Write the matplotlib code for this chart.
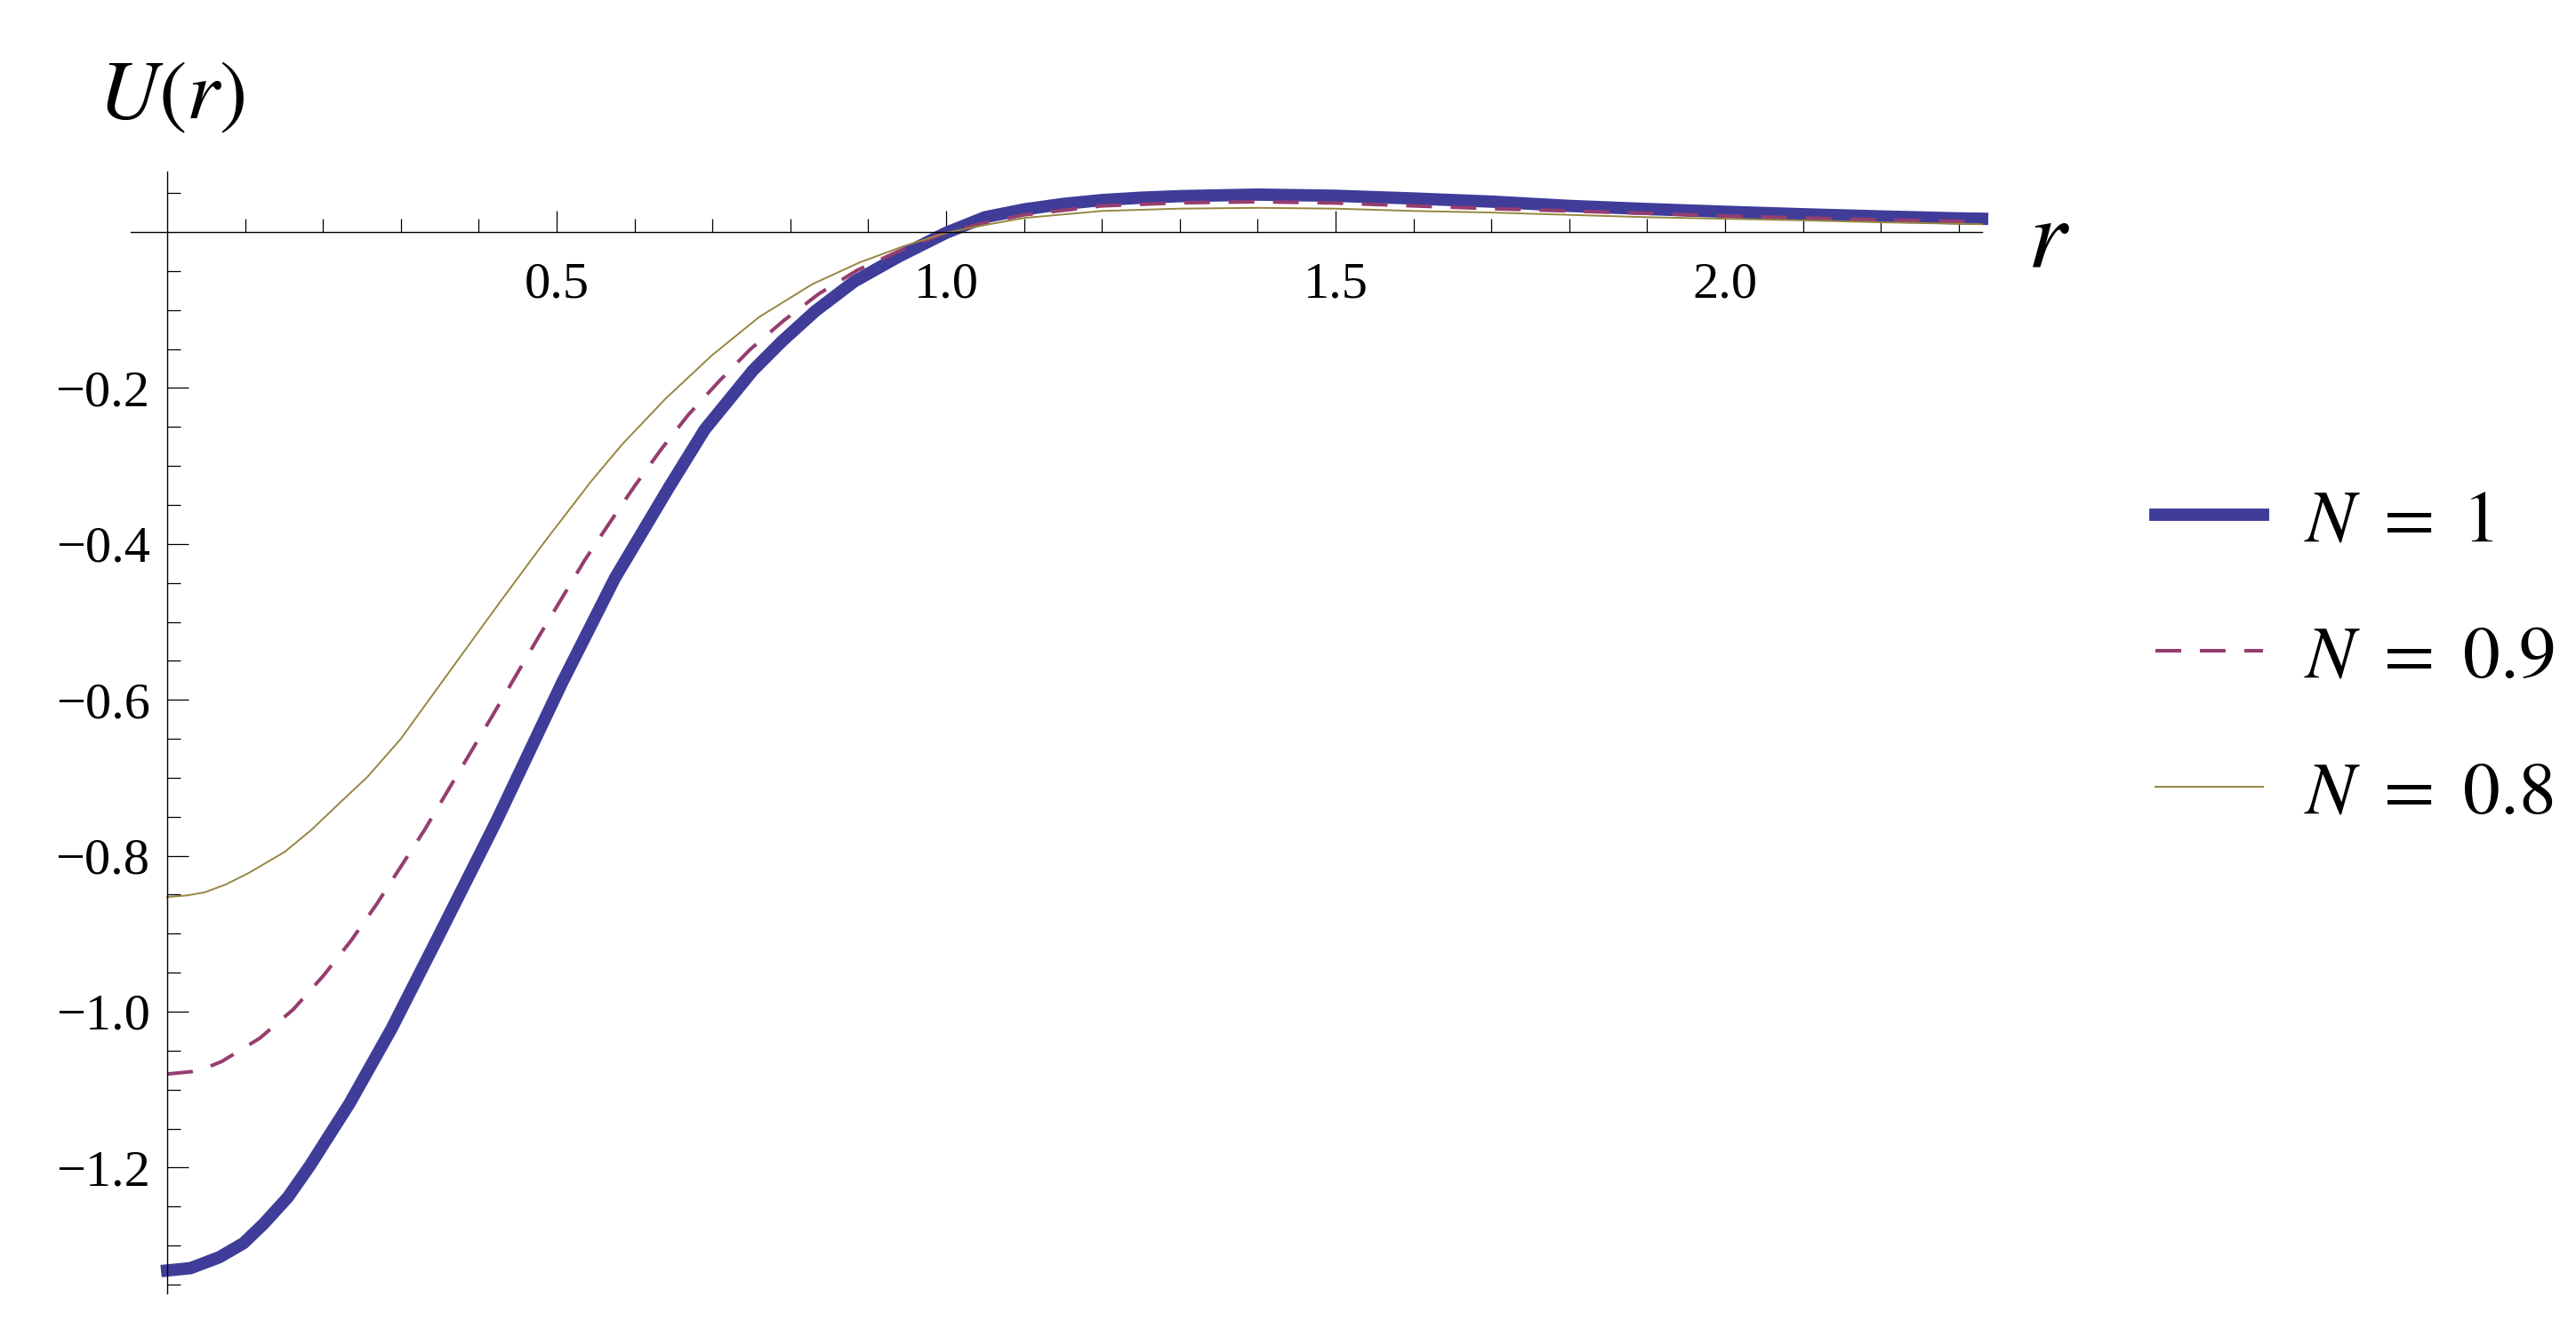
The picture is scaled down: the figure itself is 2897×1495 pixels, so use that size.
import matplotlib
matplotlib.use("Agg")
import matplotlib.pyplot as plt
from matplotlib.ticker import FixedLocator, FixedFormatter

plt.rcParams['font.family'] = 'Liberation Serif'
plt.rcParams['mathtext.fontset'] = 'stix'

# values
r_n1 = [0.0, 0.03, 0.067, 0.098, 0.124, 0.155, 0.183, 0.234, 0.288, 0.347,
        0.415, 0.4247, 0.507, 0.575, 0.643, 0.69, 0.752, 0.79, 0.832, 0.882,
        0.94, 1.0, 1.05, 1.1, 1.15, 1.2, 1.25, 1.3, 1.4, 1.5, 1.6, 1.7, 1.8,
        1.9, 2.0, 2.1, 2.2, 2.3, 2.33]
u_n1 = [-1.332, -1.329, -1.315, -1.297, -1.272, -1.238, -1.198, -1.118, -1.022, -0.906,
        -0.771, -0.7514, -0.578, -0.4436, -0.3295, -0.2535, -0.1775, -0.1395, -0.1015, -0.0635,
        -0.031, -0.001, 0.019, 0.029, 0.036, 0.041, 0.044, 0.046, 0.048, 0.0465, 0.043,
        0.039, 0.0335, 0.0295, 0.026, 0.0228, 0.020, 0.0175, 0.017]

r_n09 = [0.0, 0.031, 0.05, 0.070, 0.119, 0.162, 0.2005, 0.236, 0.269, 0.300, 0.331,
         0.360, 0.419, 0.477, 0.536, 0.568, 0.600, 0.634, 0.669, 0.708, 0.748,
         0.791, 0.837, 0.886, 0.938, 0.990, 1.046, 1.1, 1.2, 1.3, 1.4, 1.5, 1.6,
         1.7, 1.8, 1.9, 2.0, 2.1, 2.2, 2.3, 2.33]
u_n09 = [-1.080, -1.077, -1.072, -1.064, -1.034, -0.997, -0.954, -0.909, -0.862, -0.814, -0.766,
         -0.717, -0.618, -0.519, -0.421, -0.373, -0.326, -0.279, -0.2345, -0.192, -0.151,
         -0.114, -0.079, -0.049, -0.025, -0.004, 0.011, 0.022, 0.0335, 0.0375, 0.0388,
         0.0372, 0.0335, 0.030, 0.027, 0.024, 0.0205, 0.018, 0.0156, 0.0137, 0.013]

r_n08 = [0.0, 0.025, 0.048, 0.075, 0.105, 0.151, 0.185, 0.225, 0.257, 0.30, 0.371,
         0.4285, 0.4856, 0.5445, 0.5845, 0.640, 0.699, 0.760, 0.828, 0.889, 0.946,
         1.0, 1.05, 1.1, 1.2, 1.3, 1.4, 1.5, 1.6, 1.7, 1.8, 1.9, 2.0, 2.1, 2.2,
         2.3, 2.33]
u_n08 = [-0.853, -0.851, -0.847, -0.837, -0.822, -0.795, -0.767, -0.729, -0.699, -0.650, -0.552,
         -0.473, -0.396, -0.3195, -0.272, -0.2136, -0.1585, -0.109, -0.067, -0.039, -0.018,
         -0.001, 0.009, 0.018, 0.027, 0.030, 0.031, 0.030, 0.027, 0.025, 0.022, 0.019,
         0.017, 0.015, 0.0125, 0.0106, 0.010]

labels = [r'$N\ =\ 1$', r'$N\ =\ 0.9$', r'$N\ =\ 0.8$']

x_major = [0.5, 1.0, 1.5, 2.0]
x_major_labels = ['0.5', '1.0', '1.5', '2.0']
x_minor = [0.1, 0.2, 0.3, 0.4, 0.6, 0.7, 0.8, 0.9, 1.1, 1.2, 1.3, 1.4,
           1.6, 1.7, 1.8, 1.9, 2.1, 2.2, 2.3]
y_major = [-1.2, -1.0, -0.8, -0.6, -0.4, -0.2]
y_major_labels = ['\u22121.2', '\u22121.0', '\u22120.8', '\u22120.6', '\u22120.4', '\u22120.2']
y_minor = [-1.35, -1.3, -1.25, -1.15, -1.1, -1.05, -0.95, -0.9, -0.85, -0.75,
           -0.7, -0.65, -0.55, -0.5, -0.45, -0.35, -0.3, -0.25, -0.15, -0.1,
           -0.05, 0.05]

W, H = 2897, 1495
fig = plt.figure(figsize=(W / 100, H / 100), dpi=100)

# axes box in pixels: data (0,0) at (188, 261), 876 px per unit
xmin, xmax = -0.047, 2.33
ymin, ymax = -1.362, 0.078
left = 188 + xmin * 876
right = 188 + xmax * 876
top = 261 - ymax * 877
bottom = 261 - ymin * 877
ax = fig.add_axes([left / W, 1 - bottom / H, (right - left) / W, (bottom - top) / H])

l1, = ax.plot(r_n1, u_n1, color='#3F3D99', lw=10.0, clip_on=False,
              solid_capstyle='projecting', solid_joinstyle='round')
l2, = ax.plot(r_n09, u_n09, color='#963D70', lw=2.9, ls=(0, (7.2, 5.2)),
              clip_on=False)
l3, = ax.plot(r_n08, u_n08, color='#968640', lw=1.4, clip_on=False)

ax.set_xlim(xmin, xmax)
ax.set_ylim(ymin, ymax)

for s in ['top', 'right']:
    ax.spines[s].set_visible(False)
ax.spines['left'].set_position(('data', 0))
ax.spines['bottom'].set_position(('data', 0))
for s in ['left', 'bottom']:
    ax.spines[s].set_linewidth(1.0)

ax.xaxis.set_major_locator(FixedLocator(x_major))
ax.xaxis.set_major_formatter(FixedFormatter(x_major_labels))
ax.xaxis.set_minor_locator(FixedLocator(x_minor))
ax.yaxis.set_major_locator(FixedLocator(y_major))
ax.yaxis.set_major_formatter(FixedFormatter(y_major_labels))
ax.yaxis.set_minor_locator(FixedLocator(y_minor))

ax.tick_params(which='both', direction='in', width=0.9, labelsize=42)
ax.tick_params(which='major', length=17.5)
ax.tick_params(which='minor', length=11)
ax.tick_params(axis='x', pad=24)
ax.tick_params(axis='y', pad=14)

ax.set_ylabel(r'$U(r)$', rotation=0, fontsize=68, ha='left', va='baseline')
ax.yaxis.set_label_coords((110 - left) / (right - left), (bottom - 133) / (bottom - top))
ax.set_xlabel(r'$r$', fontsize=80, ha='left', va='baseline')
ax.xaxis.set_label_coords((2280 - left) / (right - left), (bottom - 299) / (bottom - top))

ax.legend([l1, l2, l3], labels, loc='center left',
          bbox_to_anchor=(2424 / W, 1 - 741 / H), bbox_transform=fig.transFigure,
          frameon=False, fontsize=60, handlelength=1.45, handletextpad=0.55,
          labelspacing=0.92, borderpad=0, borderaxespad=0)

fig.savefig('out.png', dpi=100)
